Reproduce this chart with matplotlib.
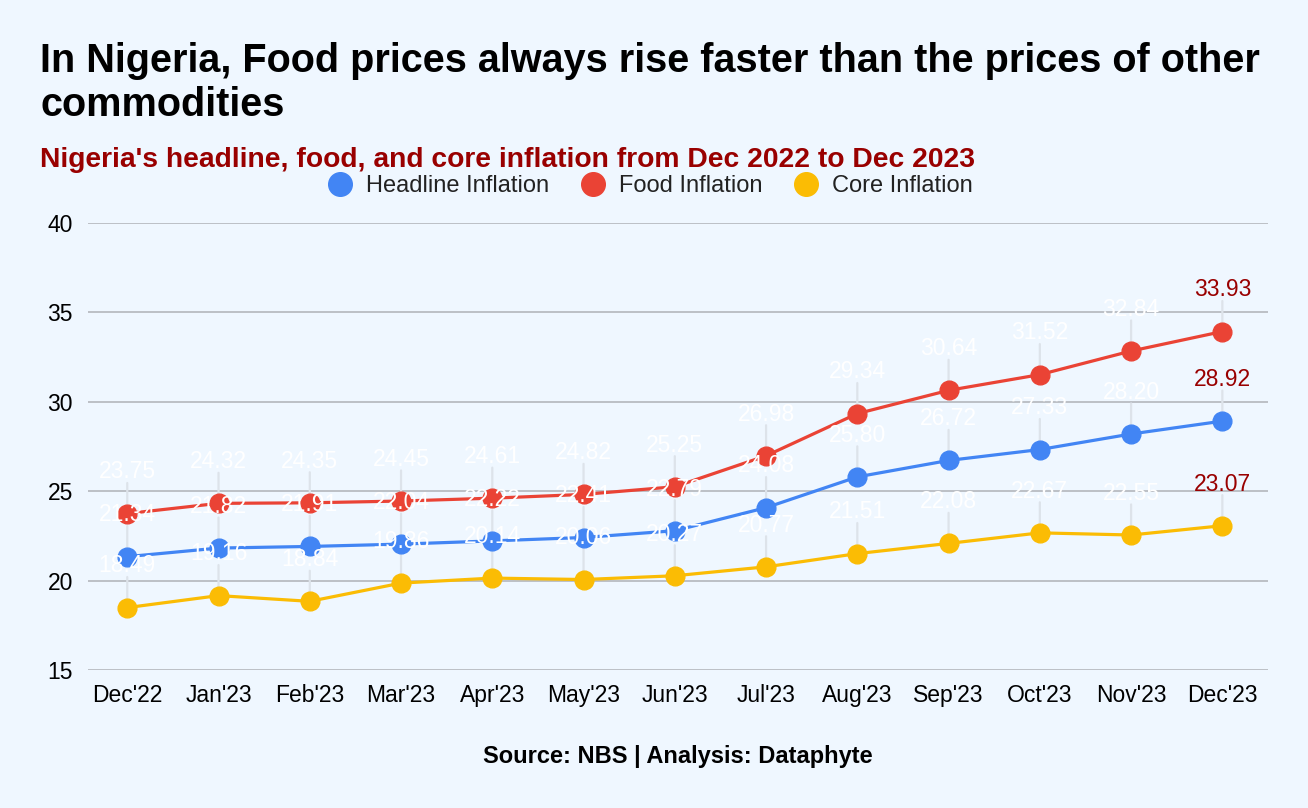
import matplotlib.pyplot as plt
from matplotlib.lines import Line2D

plt.rcParams['font.family'] = ['Liberation Sans', 'DejaVu Sans']

months = ["Dec'22", "Jan'23", "Feb'23", "Mar'23", "Apr'23", "May'23", "Jun'23",
          "Jul'23", "Aug'23", "Sep'23", "Oct'23", "Nov'23", "Dec'23"]
headline = [21.34, 21.82, 21.91, 22.04, 22.22, 22.41, 22.79, 24.08, 25.80, 26.72, 27.33, 28.20, 28.92]
food = [23.75, 24.32, 24.35, 24.45, 24.61, 24.82, 25.25, 26.98, 29.34, 30.64, 31.52, 32.84, 33.93]
core = [18.49, 19.16, 18.84, 19.86, 20.14, 20.06, 20.27, 20.77, 21.51, 22.08, 22.67, 22.55, 23.07]

bg = '#eff7ff'
series = [('Headline Inflation', headline, '#4285f4'),
          ('Food Inflation', food, '#ea4335'),
          ('Core Inflation', core, '#fbbc04')]

fig = plt.figure(figsize=(13.08, 8.08), dpi=100, facecolor=bg)
ax = fig.add_axes([0.0673, 0.1708, 0.9021, 0.5532])
ax.set_facecolor(bg)

x = list(range(len(months)))
for name, vals, col in series:
    # faint leader lines above each point
    for xi, v in zip(x, vals):
        ax.annotate('', xy=(xi, v), xytext=(0, 22), textcoords='offset points',
                    arrowprops=dict(arrowstyle='-', color='#dde3ea', lw=1.6,
                                    shrinkA=0, shrinkB=0), zorder=1)
    ax.plot(x, vals, color=col, lw=2.3, marker='o', ms=13.5, zorder=3)
    for xi, v in zip(x, vals):
        last = xi == x[-1]
        ax.annotate(f'{v:.2f}', xy=(xi, v), xytext=(0, 30), textcoords='offset points',
                    ha='center', va='center', fontsize=16.5,
                    color='#990000' if last else 'white', zorder=4)

ax.set_xlim(-0.43, 12.5)
ax.set_ylim(15, 40)
ax.set_yticks([15, 20, 25, 30, 35, 40])
ax.set_xticks(x)
ax.set_xticklabels(months)
ax.grid(axis='y', color='#bcc0c6', lw=1.4, zorder=0)
ax.set_axisbelow(True)
for s in ax.spines.values():
    s.set_visible(False)
ax.tick_params(axis='both', length=0, labelsize=16.5, colors='black', pad=10)
ax.tick_params(axis='y', pad=11)

fig.text(40 / 1308, 1 - 42 / 808,
         'In Nigeria, Food prices always rise faster than the prices of other\ncommodities',
         fontsize=28.5, fontweight='bold', color='black', va='top', ha='left',
         linespacing=1.19)
fig.text(40 / 1308, 1 - 160 / 808,
         "Nigeria's headline, food, and core inflation from Dec 2022 to Dec 2023",
         fontsize=20.3, fontweight='bold', color='#990000', va='center', ha='left')

handles = [Line2D([], [], ls='none', marker='o', ms=17, color=c) for _, _, c in series]
fig.legend(handles, [n for n, _, _ in series], loc='center', ncol=3,
           bbox_to_anchor=(650 / 1308, 1 - 186 / 808), frameon=False,
           fontsize=17, labelcolor='#222222', handletextpad=0.55, columnspacing=1.3,
           handlelength=1.1)

fig.text(678 / 1308, 1 - 757 / 808, 'Source: NBS | Analysis: Dataphyte',
         fontsize=17, fontweight='bold', color='black', ha='center', va='center')

fig.savefig('out.png', dpi=100, facecolor=bg)
